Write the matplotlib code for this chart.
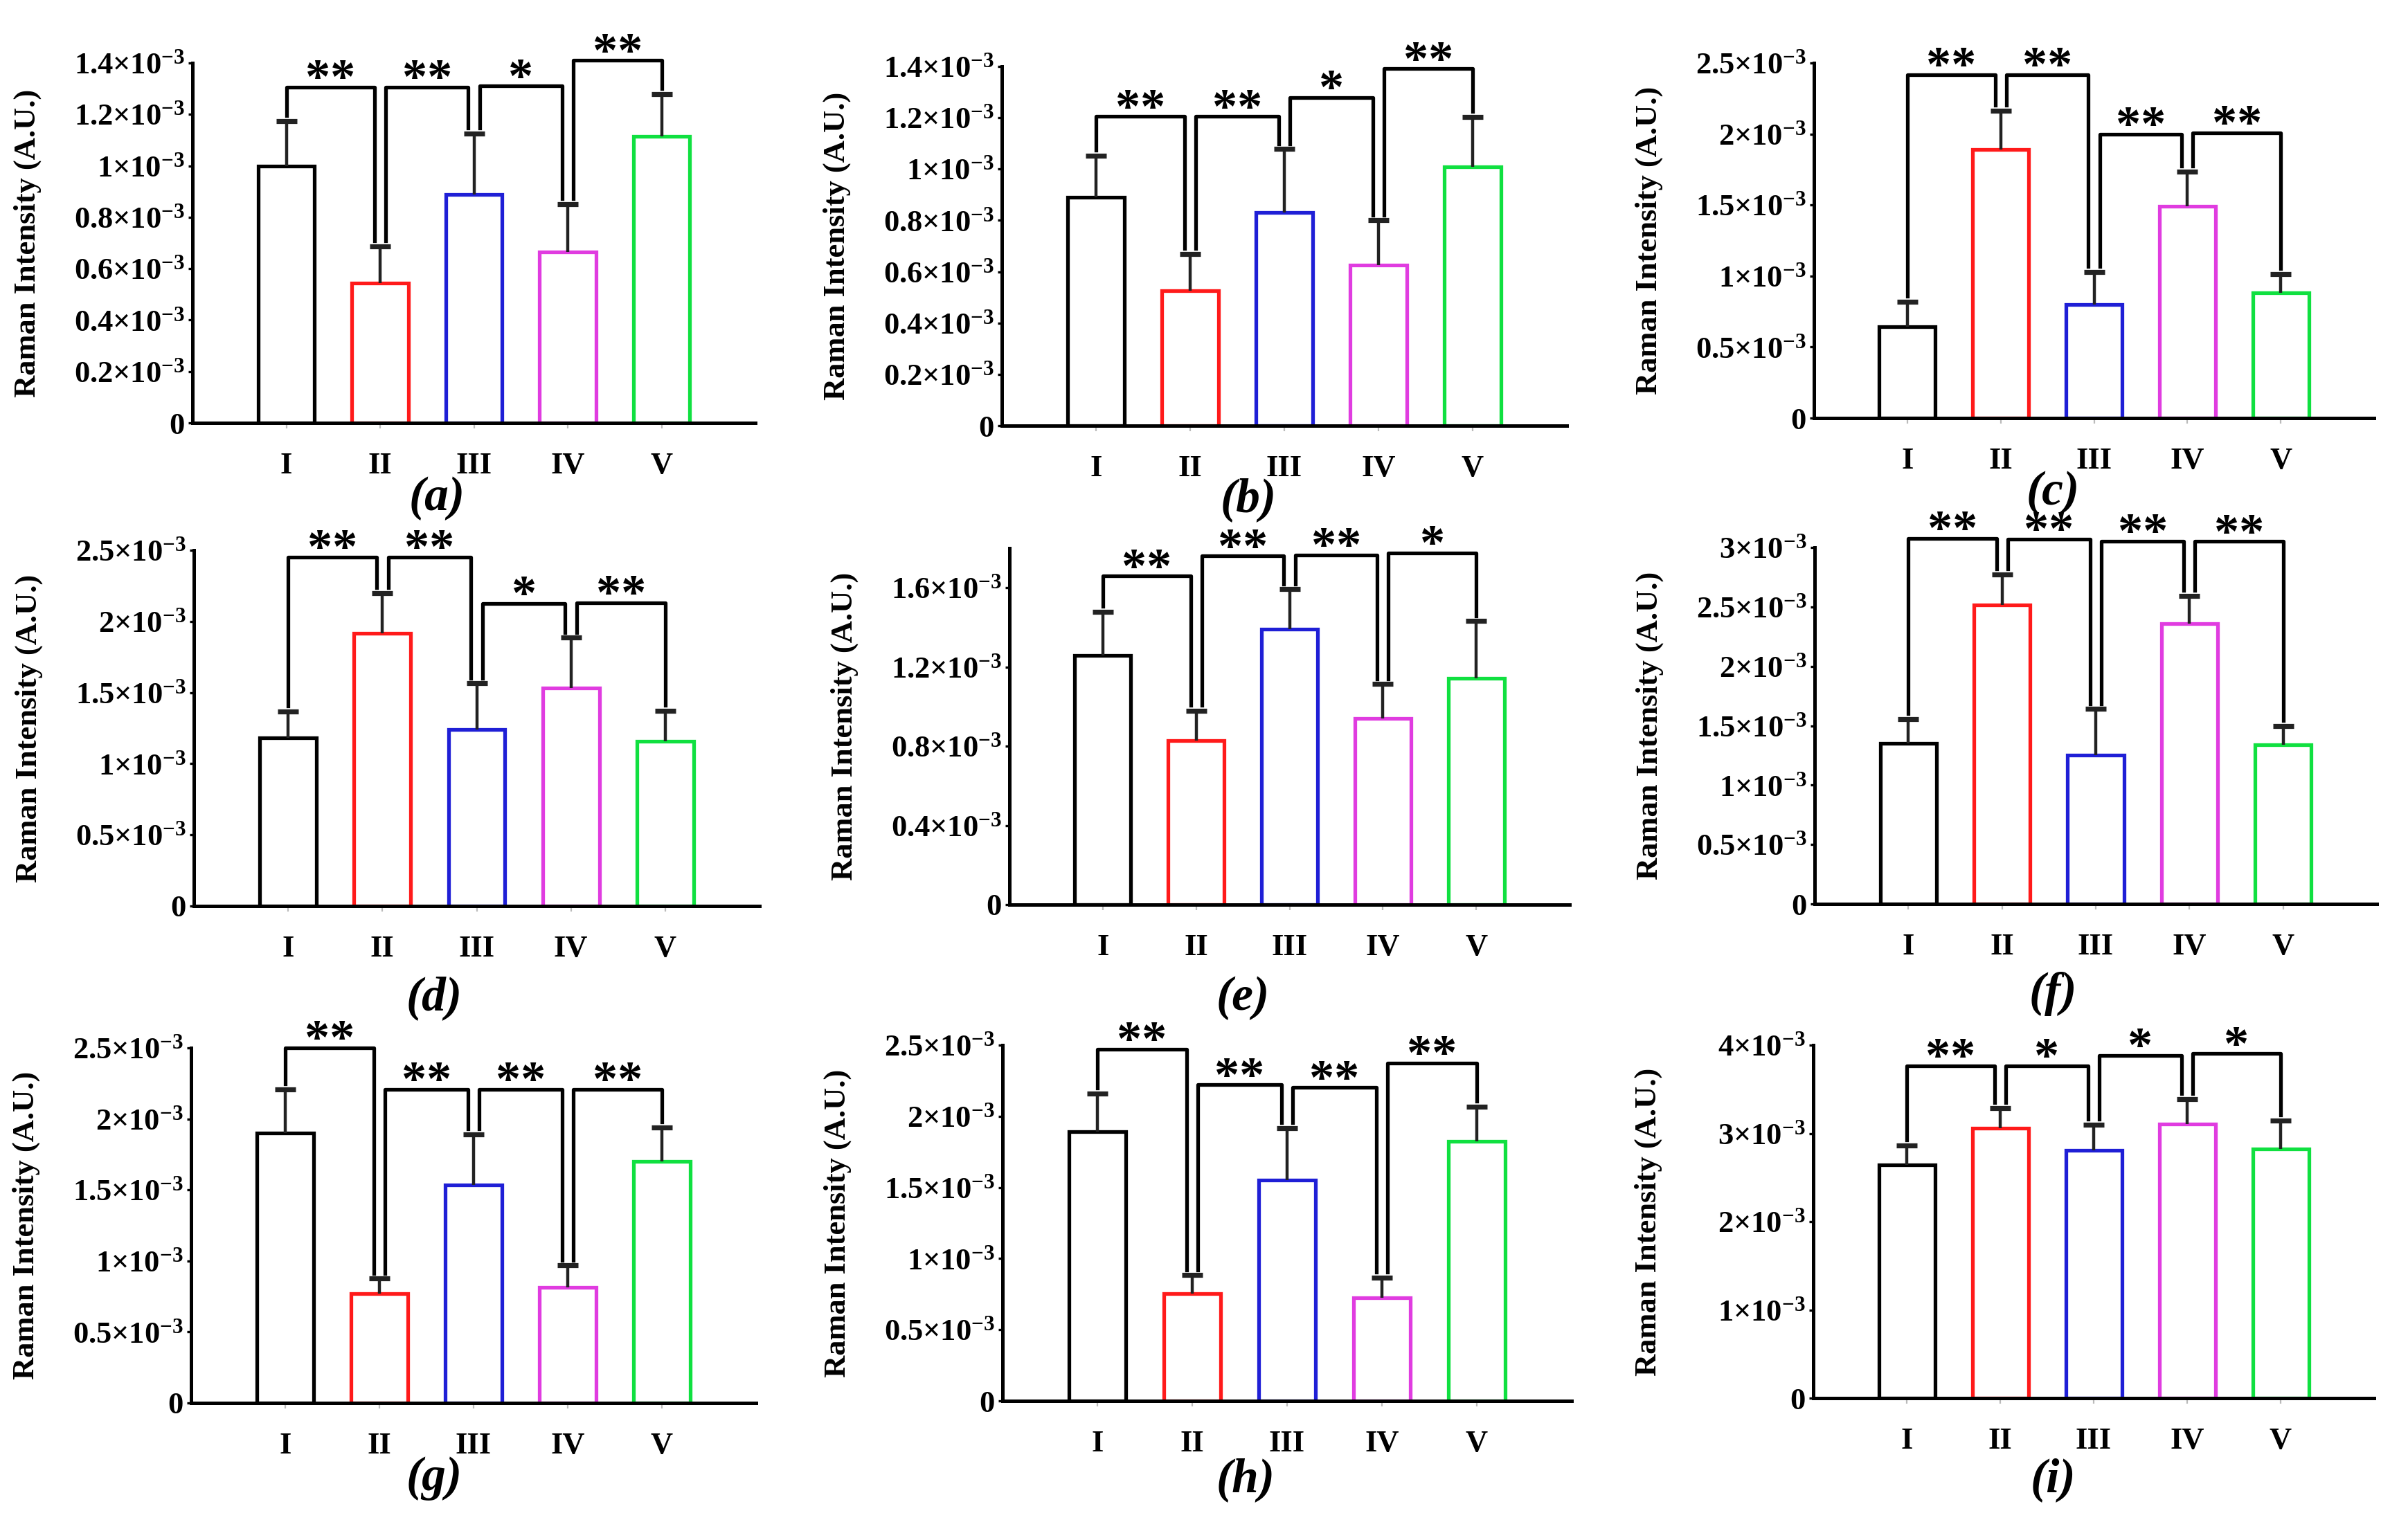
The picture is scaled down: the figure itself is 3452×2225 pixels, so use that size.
import numpy as np
import matplotlib
matplotlib.use("Agg")
import matplotlib.pyplot as plt

plt.rcParams['font.family'] = ['Liberation Serif', 'DejaVu Serif']
plt.rcParams['mathtext.fontset'] = 'custom'
plt.rcParams['mathtext.rm'] = 'Liberation Serif'
plt.rcParams['mathtext.bf'] = 'Liberation Serif:bold'
plt.rcParams['mathtext.it'] = 'Liberation Serif:italic'

groups = ['I', 'II', 'III', 'IV', 'V']
bar_colors = ['black', '#ff1a1a', '#1f1fd6', '#e03ce0', '#10e040']

# means and upper error (units of 1e-3), significance brackets (i, j, height, mark)
mean_a = [1.00, 0.545, 0.888, 0.665, 1.115]
sd_a = [0.174, 0.142, 0.237, 0.185, 0.165]
sig_a = [(0, 1, 1.306, '**'), (1, 2, 1.306, '**'), (2, 3, 1.31, '*'), (3, 4, 1.41, '**')]

mean_b = [0.89, 0.526, 0.832, 0.627, 1.01]
sd_b = [0.162, 0.143, 0.246, 0.173, 0.193]
sig_b = [(0, 1, 1.205, '**'), (1, 2, 1.205, '**'), (2, 3, 1.279, '*'), (3, 4, 1.391, '**')]

mean_c = [0.645, 1.89, 0.80, 1.49, 0.88]
sd_c = [0.175, 0.274, 0.23, 0.247, 0.136]
sig_c = [(0, 1, 2.418, '**'), (1, 2, 2.418, '**'), (2, 3, 2.0, '**'), (3, 4, 2.01, '**')]

mean_d = [1.18, 1.916, 1.238, 1.53, 1.16]
sd_d = [0.187, 0.284, 0.327, 0.356, 0.214]
sig_d = [(0, 1, 2.453, '**'), (1, 2, 2.453, '**'), (2, 3, 2.126, '*'), (3, 4, 2.13, '**')]

mean_e = [1.26, 0.829, 1.39, 0.941, 1.143]
sd_e = [0.219, 0.151, 0.203, 0.173, 0.289]
sig_e = [(0, 1, 1.659, '**'), (1, 2, 1.76, '**'), (2, 3, 1.765, '**'), (3, 4, 1.776, '*')]

mean_f = [1.353, 2.515, 1.255, 2.361, 1.339]
sd_f = [0.202, 0.258, 0.386, 0.233, 0.16]
sig_f = [(0, 1, 3.076, '**'), (1, 2, 3.07, '**'), (2, 3, 3.053, '**'), (3, 4, 3.05, '**')]

mean_g = [1.903, 0.771, 1.533, 0.815, 1.703]
sd_g = [0.304, 0.105, 0.36, 0.153, 0.239]
sig_g = [(0, 1, 2.501, '**'), (1, 2, 2.209, '**'), (2, 3, 2.209, '**'), (3, 4, 2.209, '**')]

mean_h = [1.893, 0.754, 1.552, 0.725, 1.825]
sd_h = [0.268, 0.129, 0.365, 0.141, 0.243]
sig_h = [(0, 1, 2.472, '**'), (1, 2, 2.221, '**'), (2, 3, 2.202, '**'), (3, 4, 2.375, '**')]

mean_i = [2.647, 3.059, 2.804, 3.106, 2.824]
sd_i = [0.216, 0.227, 0.294, 0.286, 0.325]
sig_i = [(0, 1, 3.765, '**'), (1, 2, 3.765, '*'), (2, 3, 3.882, '*'), (3, 4, 3.902, '*')]

ytop = [1.4, 1.4, 2.5, 2.5, 1.8, 3.0, 2.5, 2.5, 4.0]
ystep = [0.2, 0.2, 0.5, 0.5, 0.4, 0.5, 0.5, 0.5, 1.0]
letters = ['a', 'b', 'c', 'd', 'e', 'f', 'g', 'h', 'i']

panels = [(mean_a, sd_a, sig_a), (mean_b, sd_b, sig_b), (mean_c, sd_c, sig_c),
          (mean_d, sd_d, sig_d), (mean_e, sd_e, sig_e), (mean_f, sd_f, sig_f),
          (mean_g, sd_g, sig_g), (mean_h, sd_h, sig_h), (mean_i, sd_i, sig_i)]

# layout in pixels: left, right, top, bottom of each axes, and caption centre
W, H = 3452, 2225
boxes = [(278, 1091, 91, 611), (1447, 2263, 96, 615), (2620, 3429, 91, 604),
         (280, 1097, 795, 1309), (1458, 2267, 792, 1307), (2621, 3433, 791, 1306),
         (276, 1092, 1514, 2027), (1448, 2270, 1510, 2024), (2619, 3429, 1510, 2020)]
captions = [(631, 720), (1803, 722), (2965, 712),
            (627, 1442), (1795, 1442), (2965, 1436),
            (627, 2136), (1799, 2138), (2965, 2138)]


def tick_text(v):
    if abs(v) < 1e-9:
        return r'$\mathbf{0}$'
    return r'$\mathbf{%g{\times}10^{-3}}$' % round(v, 3)


fig = plt.figure(figsize=(W / 200, H / 200), dpi=200)

for k, (mean, sd, sig) in enumerate(panels):
    l, r, t, b = boxes[k]
    ax = fig.add_axes([l / W, 1 - b / H, (r - l) / W, (b - t) / H])
    x = np.arange(len(groups))
    m = np.array(mean) * 1e-3
    s = np.array(sd) * 1e-3
    ymax = ytop[k] * 1e-3

    ax.bar(x, m, width=0.6, color='white', edgecolor=bar_colors, linewidth=1.9, zorder=2)
    ax.vlines(x, m, m + s, color='#222222', lw=1.6, zorder=3)
    ax.plot(x, m + s, ls='none', marker='_', ms=11, mew=2.6, color='#222222', zorder=3)

    # brackets
    use = np.zeros(len(groups), int)
    for i, j, h, mark in sig:
        use[i] += 1
        use[j] += 1
    pad = 0.015 * ymax
    for i, j, h, mark in sig:
        xi = i + (0.06 if use[i] > 1 else 0)
        xj = j - (0.06 if use[j] > 1 else 0)
        hy = h * 1e-3
        ax.plot([xi, xi, xj, xj], [m[i] + s[i] + pad, hy, hy, m[j] + s[j] + pad],
                color='black', lw=1.9, clip_on=False, zorder=4)
        ax.annotate(mark, ((xi + xj) / 2, hy), xytext=(0, -3), textcoords='offset points',
                    ha='center', va='baseline', fontsize=26, fontweight='bold',
                    annotation_clip=False)

    ax.set_xlim(-1, 5)
    ax.set_ylim(0, ymax)
    ticks = np.arange(0, ytop[k] + 1e-9, ystep[k])
    ax.set_yticks(ticks * 1e-3)
    ax.set_yticklabels([tick_text(v) for v in ticks])
    ax.set_xticks(x)
    ax.set_xticklabels(groups, fontsize=16, fontweight='bold')
    ax.tick_params(axis='y', length=2, width=1.2, pad=2, labelsize=16)
    ax.tick_params(axis='x', length=3, width=0.8, pad=12, color='#bbbbbb')
    for side in ['top', 'right']:
        ax.spines[side].set_visible(False)
    for side in ['left', 'bottom']:
        ax.spines[side].set_linewidth(1.8)

    ax.set_ylabel('Raman Intensity (A.U.)', fontsize=16, fontweight='bold')
    ax.yaxis.set_label_coords(-218 / (r - l), 0.5)

    cx, cy = captions[k]
    fig.text(cx / W, 1 - cy / H, '(%s)' % letters[k], ha='center', va='center',
             fontsize=25, style='italic', fontweight='bold')

fig.savefig('out.png', dpi=200, facecolor='white')
